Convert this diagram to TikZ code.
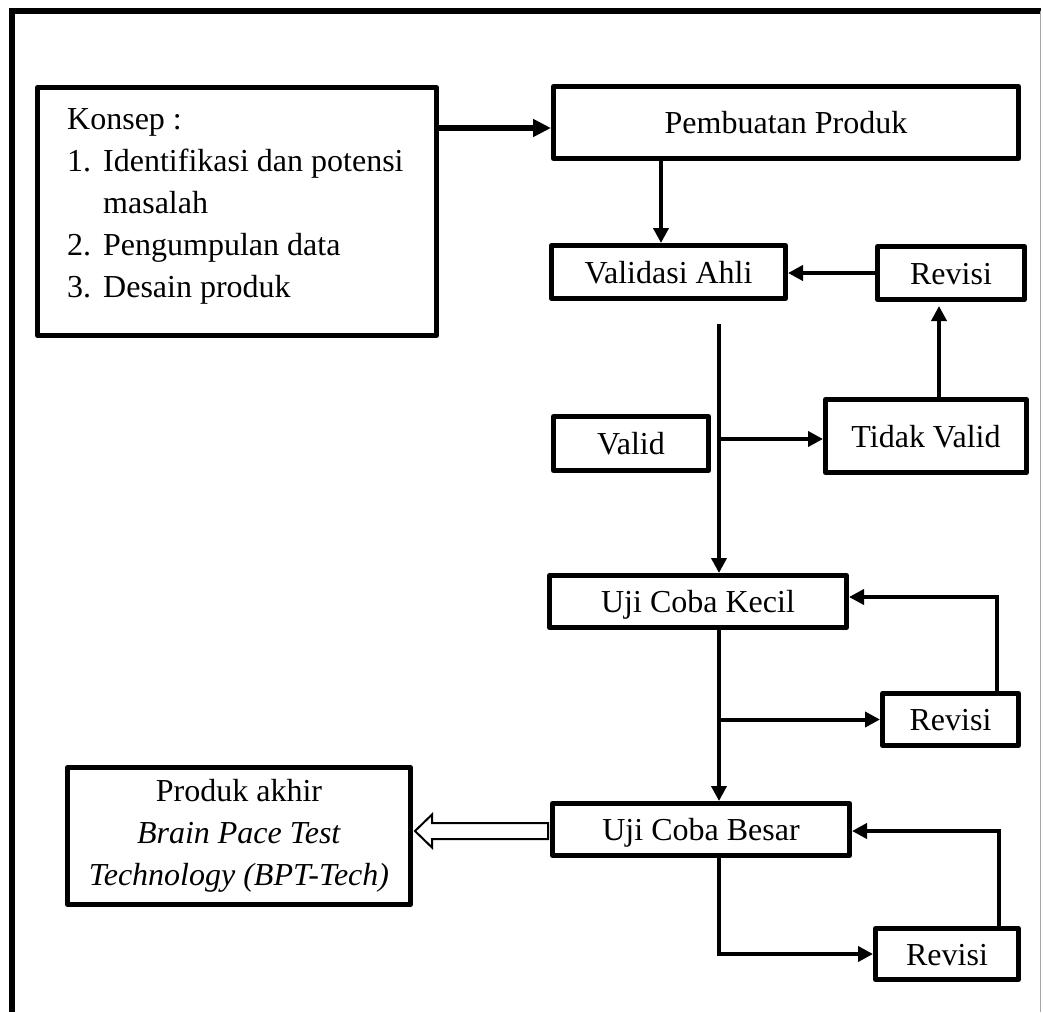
\documentclass[tikz,border=0pt]{standalone}
\usepackage{fontspec}
\setmainfont{Liberation Serif}
\usetikzlibrary{arrows.meta,calc}
\begin{document}
\begin{tikzpicture}[x=1pt,y=-1pt,
  txt/.style={font=\fontsize{32}{42}\selectfont},
  box/.style={draw, line width=5pt, line join=round, inner sep=0pt, txt},
  sbox/.style={box, text height=22pt, text depth=0pt},
  conn/.style={line width=4pt, -{Triangle[length=15pt,width=15pt]}},
  bigconn/.style={line width=5.5pt, -{Triangle[length=18pt,width=17pt]}},
  frame/.style={line width=6pt},
  hollow/.style={line width=2pt, line join=miter, fill=white}
]
\useasboundingbox (0,0) rectangle (1043,1012);
% outer frame
\draw[frame] (12,1012) -- (12,11) -- (1041,11);
\draw[black!35, line width=1pt] (1040,11) -- (1040,1012);

% nodes
\node[box, minimum width=399pt, minimum height=248pt] (konsep) at (237,211.5) {};
\node[txt, anchor=north west, inner sep=0pt, align=left] (konseptext) at (67,108)
  {Konsep :\\
   \makebox[36pt][l]{1.}Identifikasi dan potensi\\
   \hspace*{36pt}masalah\\
   \makebox[36pt][l]{2.}Pengumpulan data\\
   \makebox[36pt][l]{3.}Desain produk};
\node[sbox, minimum width=465pt, minimum height=72pt] (pembuatan) at (786,122.5) {Pembuatan Produk};
\node[sbox, minimum width=234pt, minimum height=53pt] (validasi) at (668.5,272) {Validasi Ahli};
\node[sbox, minimum width=147pt, minimum height=53pt] (revisiA) at (951,273) {Revisi};
\node[sbox, minimum width=155pt, minimum height=54pt] (valid) at (631,443.5) {Valid};
\node[sbox, minimum width=201pt, minimum height=73pt] (tidak) at (926,436) {Tidak Valid};
\node[sbox, minimum width=297pt, minimum height=52pt] (kecil) at (698,601.5) {Uji Coba Kecil};
\node[sbox, minimum width=136pt, minimum height=52pt] (revisiB) at (950.5,719.5) {Revisi};
\node[sbox, minimum width=297pt, minimum height=52pt] (besar) at (701,829.5) {Uji Coba Besar};
\node[sbox, minimum width=143pt, minimum height=51pt] (revisiC) at (947,954) {Revisi};
\node[box, minimum width=343pt, minimum height=137pt, align=center] (produk) at (239,836)
  {Produk akhir\\ \textit{Brain Pace Test}\\ \textit{Technology (BPT-Tech)}};

% helper coordinates
\coordinate (pv) at (661,0);
\coordinate (trunktop) at (719,324);
\coordinate (branchA) at (719,439);

% connectors
\draw[bigconn] ([yshift=-43pt]konsep.north east) -- ([yshift=-43pt]konsep.north east -| pembuatan.west);
\draw[conn] (pv |- pembuatan.south) -- (pv |- validasi.north);
\draw[conn] (revisiA.west) -- (revisiA.west -| validasi.east);
\draw[conn] ([xshift=13pt]tidak.north) -- ([xshift=13pt,yshift=-4pt]tidak.north |- revisiA.south);
\draw[conn] (trunktop) -- (trunktop |- kecil.north);
\draw[conn] (branchA) -- (branchA -| tidak.west);
\draw[conn] (trunktop |- kecil.south) -- (trunktop |- besar.north);
\draw[conn] (trunktop |- revisiB.west) -- (revisiB.west);
\draw[conn] ([xshift=46.5pt]revisiB.north) |- ([yshift=4.5pt]kecil.east);
\draw[conn] (trunktop |- besar.south) |- (revisiC.west);
\draw[conn] ([xshift=52pt]revisiC.north) |- ([yshift=-1.5pt]besar.east);

% hollow arrow to final product
\coordinate (hs) at ($(besar.west)+(-2,1.5)$);
\coordinate (ht) at ($(produk.east |- hs)+(2,0)$);
\draw[hollow] ($(hs)+(0,-8)$) -- ($(ht)+(17,-8)$) -- ($(ht)+(17,-16.5)$) -- (ht)
  -- ($(ht)+(17,16.5)$) -- ($(ht)+(17,8)$) -- ($(hs)+(0,8)$) -- cycle;
\end{tikzpicture}
\end{document}
